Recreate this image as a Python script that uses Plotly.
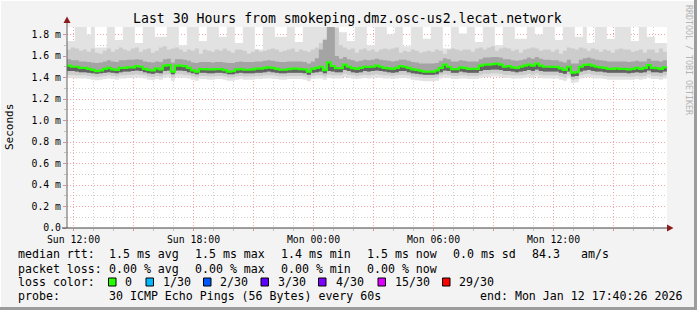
import plotly.graph_objects as go
import pandas as pd

# ---------------- data ----------------
bin_start = "2026-01-11 11:40"
bin_minutes = 12
n_bins = 150

median_ms = [1.51,1.50,1.50,1.49,1.49,1.48,1.47,1.46,1.465,1.48,
 1.49,1.475,1.47,1.49,1.49,1.495,1.495,1.505,1.50,1.48,
 1.47,1.465,1.485,1.475,1.51,1.515,1.455,1.51,1.51,1.505,
 1.49,1.467,1.455,1.478,1.478,1.475,1.475,1.478,1.478,1.468,
 1.455,1.458,1.475,1.478,1.472,1.472,1.475,1.482,1.482,1.49,
 1.495,1.49,1.48,1.472,1.472,1.478,1.482,1.482,1.478,1.475,
 1.455,1.48,1.49,1.50,1.468,1.54,1.507,1.487,1.487,1.52,
 1.50,1.487,1.48,1.49,1.50,1.498,1.50,1.51,1.50,1.49,
 1.485,1.48,1.49,1.505,1.50,1.49,1.475,1.47,1.463,1.455,
 1.455,1.455,1.465,1.49,1.52,1.50,1.478,1.478,1.495,1.49,
 1.48,1.48,1.48,1.51,1.52,1.52,1.525,1.53,1.52,1.50,
 1.505,1.495,1.49,1.50,1.51,1.52,1.51,1.53,1.51,1.50,
 1.50,1.498,1.498,1.485,1.47,1.50,1.445,1.45,1.50,1.518,
 1.52,1.51,1.50,1.495,1.49,1.48,1.48,1.485,1.48,1.48,
 1.475,1.48,1.49,1.48,1.49,1.515,1.49,1.488,1.48,1.495]

ping_max = [1.74,1.74,1.90,1.90,1.90,1.80,1.90,1.68,1.68,1.68,
 1.90,1.90,1.75,1.75,1.90,1.90,1.90,1.72,1.72,1.90,
 1.90,1.90,1.78,1.78,1.78,1.90,1.90,1.90,1.70,1.70,
 1.90,1.90,1.90,1.74,1.74,1.90,1.90,1.90,1.78,1.78,
 1.90,1.90,1.72,1.72,1.90,1.90,1.90,1.66,1.66,1.90,
 1.90,1.90,1.78,1.78,1.78,1.90,1.90,1.73,1.73,1.90,
 1.90,1.90,1.90,1.90,1.90,1.90,1.90,1.90,1.82,1.82,
 1.74,1.74,1.90,1.90,1.90,1.70,1.70,1.90,1.90,1.90,
 1.80,1.80,1.90,1.90,1.69,1.69,1.90,1.90,1.90,1.76,
 1.76,1.90,1.90,1.90,1.67,1.67,1.90,1.90,1.81,1.81,
 1.90,1.90,1.73,1.73,1.90,1.90,1.90,1.70,1.70,1.90,
 1.90,1.90,1.76,1.76,1.76,1.90,1.90,1.80,1.80,1.90,
 1.90,1.90,1.75,1.75,1.90,1.90,1.90,1.78,1.78,1.90,
 1.72,1.72,1.90,1.90,1.90,1.76,1.76,1.90,1.90,1.90,
 1.90,1.74,1.74,1.90,1.90,1.78,1.78,1.72,1.72,1.72]

ping_hi2 = [1.66,1.68,1.67,1.65,1.66,1.64,1.67,1.63,1.62,1.65,
 1.67,1.64,1.66,1.68,1.66,1.65,1.67,1.68,1.64,1.66,
 1.67,1.63,1.65,1.68,1.69,1.66,1.67,1.68,1.66,1.64,
 1.66,1.65,1.67,1.62,1.66,1.65,1.64,1.66,1.65,1.67,
 1.65,1.63,1.66,1.66,1.65,1.62,1.64,1.66,1.64,1.65,
 1.66,1.67,1.66,1.64,1.65,1.66,1.67,1.64,1.66,1.65,
 1.64,1.66,1.68,1.72,1.76,1.80,1.90,1.86,1.70,1.68,
 1.66,1.67,1.63,1.66,1.67,1.65,1.66,1.64,1.66,1.67,
 1.66,1.67,1.68,1.63,1.65,1.64,1.66,1.65,1.63,1.64,
 1.65,1.64,1.66,1.65,1.62,1.66,1.67,1.66,1.65,1.66,
 1.66,1.64,1.67,1.68,1.66,1.68,1.69,1.65,1.67,1.68,
 1.67,1.65,1.66,1.63,1.66,1.67,1.68,1.67,1.65,1.66,
 1.66,1.64,1.66,1.62,1.65,1.68,1.67,1.66,1.68,1.67,
 1.65,1.67,1.66,1.64,1.66,1.65,1.63,1.66,1.67,1.66,
 1.66,1.64,1.65,1.66,1.63,1.66,1.66,1.63,1.67,1.64]

ping_hi1 = [1.57,1.56,1.56,1.55,1.55,1.545,1.54,1.535,1.54,1.55,
 1.56,1.55,1.545,1.56,1.56,1.565,1.565,1.57,1.565,1.55,
 1.545,1.54,1.55,1.545,1.57,1.575,1.54,1.57,1.57,1.565,
 1.555,1.54,1.535,1.545,1.545,1.545,1.54,1.545,1.545,1.54,
 1.535,1.535,1.545,1.55,1.545,1.545,1.545,1.55,1.55,1.555,
 1.56,1.555,1.55,1.545,1.545,1.55,1.55,1.55,1.55,1.545,
 1.53,1.55,1.58,1.66,1.75,1.90,1.90,1.60,1.575,1.59,
 1.57,1.56,1.55,1.555,1.565,1.56,1.565,1.575,1.565,1.56,
 1.555,1.55,1.555,1.565,1.565,1.555,1.545,1.54,1.53,1.53,
 1.53,1.53,1.535,1.555,1.58,1.57,1.55,1.55,1.56,1.555,
 1.55,1.55,1.55,1.57,1.585,1.585,1.59,1.59,1.585,1.57,
 1.57,1.56,1.555,1.56,1.57,1.585,1.575,1.59,1.575,1.565,
 1.565,1.56,1.56,1.55,1.54,1.565,1.53,1.53,1.565,1.58,
 1.585,1.575,1.565,1.56,1.555,1.55,1.55,1.55,1.55,1.55,
 1.545,1.55,1.555,1.55,1.55,1.575,1.555,1.555,1.55,1.56]

ping_lo1 = [1.46,1.46,1.455,1.45,1.45,1.445,1.44,1.435,1.44,1.445,
 1.45,1.445,1.44,1.45,1.455,1.455,1.46,1.465,1.46,1.45,
 1.44,1.435,1.445,1.44,1.46,1.465,1.43,1.465,1.465,1.46,
 1.45,1.44,1.43,1.445,1.445,1.44,1.44,1.445,1.445,1.44,
 1.43,1.43,1.44,1.445,1.44,1.44,1.44,1.445,1.445,1.45,
 1.455,1.45,1.445,1.44,1.44,1.445,1.445,1.445,1.445,1.44,
 1.425,1.445,1.45,1.455,1.44,1.46,1.455,1.45,1.45,1.47,
 1.46,1.45,1.445,1.45,1.46,1.455,1.46,1.465,1.46,1.455,
 1.45,1.445,1.45,1.46,1.46,1.45,1.44,1.435,1.43,1.425,
 1.425,1.425,1.43,1.45,1.465,1.46,1.445,1.445,1.455,1.45,
 1.445,1.445,1.445,1.46,1.47,1.47,1.475,1.475,1.47,1.46,
 1.46,1.455,1.45,1.455,1.46,1.47,1.46,1.475,1.46,1.455,
 1.455,1.455,1.455,1.445,1.435,1.455,1.41,1.415,1.455,1.465,
 1.47,1.46,1.455,1.455,1.45,1.445,1.445,1.445,1.445,1.445,
 1.44,1.445,1.45,1.445,1.45,1.465,1.45,1.45,1.445,1.455]

ping_lo2 = [1.425,1.425,1.42,1.42,1.42,1.415,1.41,1.405,1.41,1.415,
 1.42,1.415,1.41,1.42,1.42,1.425,1.425,1.43,1.425,1.42,
 1.41,1.405,1.415,1.41,1.425,1.43,1.40,1.43,1.43,1.425,
 1.42,1.41,1.40,1.415,1.415,1.41,1.41,1.415,1.415,1.41,
 1.40,1.40,1.41,1.415,1.41,1.41,1.41,1.415,1.415,1.42,
 1.42,1.42,1.415,1.41,1.41,1.415,1.415,1.415,1.415,1.41,
 1.395,1.415,1.42,1.42,1.41,1.425,1.42,1.42,1.42,1.435,
 1.425,1.42,1.415,1.42,1.425,1.42,1.425,1.43,1.425,1.42,
 1.42,1.415,1.42,1.425,1.425,1.42,1.41,1.405,1.40,1.395,
 1.395,1.395,1.40,1.42,1.43,1.425,1.415,1.415,1.42,1.42,
 1.415,1.415,1.415,1.425,1.435,1.435,1.44,1.44,1.435,1.425,
 1.425,1.42,1.42,1.42,1.425,1.435,1.425,1.44,1.425,1.42,
 1.42,1.42,1.42,1.41,1.40,1.42,1.38,1.385,1.42,1.43,
 1.435,1.425,1.42,1.42,1.415,1.41,1.41,1.41,1.41,1.41,
 1.41,1.41,1.415,1.41,1.415,1.43,1.415,1.415,1.41,1.42]

ping_min = [1.395,1.395,1.39,1.39,1.39,1.385,1.38,1.375,1.38,1.385,
 1.39,1.385,1.38,1.39,1.39,1.395,1.395,1.40,1.395,1.39,
 1.38,1.375,1.385,1.38,1.395,1.40,1.37,1.40,1.40,1.395,
 1.39,1.38,1.37,1.385,1.385,1.38,1.38,1.385,1.385,1.38,
 1.37,1.37,1.38,1.385,1.38,1.38,1.38,1.385,1.385,1.39,
 1.39,1.39,1.385,1.38,1.38,1.385,1.385,1.385,1.385,1.38,
 1.365,1.385,1.39,1.39,1.38,1.395,1.39,1.39,1.39,1.405,
 1.395,1.39,1.385,1.39,1.395,1.39,1.395,1.40,1.395,1.39,
 1.39,1.385,1.39,1.395,1.395,1.39,1.38,1.375,1.37,1.365,
 1.365,1.365,1.37,1.39,1.40,1.395,1.385,1.385,1.39,1.39,
 1.385,1.385,1.385,1.395,1.405,1.405,1.41,1.41,1.405,1.395,
 1.395,1.39,1.39,1.39,1.395,1.405,1.395,1.41,1.395,1.39,
 1.39,1.39,1.39,1.38,1.37,1.39,1.35,1.355,1.39,1.40,
 1.405,1.395,1.39,1.39,1.385,1.38,1.38,1.38,1.38,1.38,
 1.38,1.38,1.385,1.38,1.385,1.40,1.385,1.385,1.38,1.39]

x_tick_start = "2026-01-11 12:00"
x_tick_labels = ["Sun 12:00", "", "Sun 18:00", "", "Mon 00:00", "",
                 "Mon 06:00", "", "Mon 12:00", ""]
y_tick_values = [0.0, 0.2, 0.4, 0.6, 0.8, 1.0, 1.2, 1.4, 1.6, 1.8]
y_tick_labels = ["0.0", "0.2 m", "0.4 m", "0.6 m", "0.8 m", "1.0 m",
                 "1.2 m", "1.4 m", "1.6 m", "1.8 m"]
x_start = "2026-01-11 11:40:26"
x_end = "2026-01-12 17:40:26"

legend_rows = [
    ["median rtt:", "1.5 ms avg", "1.5 ms max", "1.4 ms min", "1.5 ms now", "0.0 ms sd", "84.3", "am/s"],
    ["packet loss:", "0.00 % avg", "0.00 % max", "0.00 % min", "0.00 % now"],
]
loss_labels = ["0", "1/30", "2/30", "3/30", "4/30", "15/30", "29/30"]
loss_colors = ["#26ff00", "#00b8ff", "#0059ff", "#5e00ff", "#7e00ff", "#dd00ff", "#ff0000"]
probe_text = "30 ICMP Echo Pings (56 Bytes) every 60s"
end_text = "end: Mon Jan 12 17:40:26 2026"
title_text = "Last 30 Hours from smokeping.dmz.osc-us2.lecat.network"

# ---------------- build figure ----------------
W, H = 697, 310
L, R, T, B = 67, 667, 27, 228
def px(x):
    return (x - L) / (R - L)
def py(y):
    return (B - y) / (B - T)

times = pd.date_range(bin_start, periods=n_bins, freq=f"{bin_minutes}min")
step_x = list(times) + [times[-1] + pd.Timedelta(minutes=bin_minutes)]
def step_y(v):
    return list(v) + [v[-1]]

fig = go.Figure()

def band(lower, upper, color):
    fig.add_trace(go.Scatter(x=step_x, y=step_y(lower), mode="lines",
                             line=dict(width=0, shape="hv"), hoverinfo="skip", showlegend=False))
    fig.add_trace(go.Scatter(x=step_x, y=step_y(upper), mode="lines", fill="tonexty",
                             fillcolor=color, line=dict(width=0, shape="hv"),
                             hoverinfo="skip", showlegend=False))

band(ping_min, ping_max, "#e2e2e2")
band(ping_lo2, ping_hi2, "#cccccc")
band(ping_lo1, ping_hi1, "#a4a4a4")
band(ping_lo1, median_ms, "#626262")

# median line (step)
fig.add_trace(go.Scatter(x=step_x, y=step_y(median_ms), mode="lines",
                         line=dict(color="#26ff00", width=2.2, shape="hv"),
                         hoverinfo="skip", showlegend=False))

tickvals = pd.date_range(x_tick_start, periods=len(x_tick_labels), freq="3h")

font_mono = "DejaVu Sans Mono"
fig.update_layout(
    width=W, height=H,
    margin=dict(l=L, r=W - R, t=T, b=H - B, pad=0),
    paper_bgcolor="#f3f3f3", plot_bgcolor="#ffffff",
    showlegend=False,
    font=dict(family=font_mono, size=10, color="#000000"),
    xaxis=dict(
        type="date", range=[x_start, x_end],
        tickvals=tickvals, ticktext=x_tick_labels,
        showgrid=True, gridcolor="#f5a3a3", griddash="1px,2px", gridwidth=1,
        ticks="outside", ticklen=2, tickcolor="#e09090",
        tickfont=dict(family=font_mono, size=9.8, color="#000000"),
        minor=dict(dtick=3600000, tick0="2026-01-11 12:00", showgrid=True,
                   gridcolor="#cfcfcf", griddash="1px,2px", ticks="outside", ticklen=2,
                   tickcolor="#c0c0c0"),
        showline=False, zeroline=False, fixedrange=True,
    ),
    yaxis=dict(
        range=[0, (B - T) / 107.5], tickvals=y_tick_values, ticktext=y_tick_labels,
        showgrid=True, gridcolor="#f5a3a3", griddash="1px,2px", gridwidth=1,
        ticks="outside", ticklen=3, tickcolor="#e09090",
        tickfont=dict(family=font_mono, size=9.8, color="#000000"),
        minor=dict(dtick=0.1, showgrid=True, gridcolor="#cfcfcf", griddash="1px,2px",
                   ticks="outside", ticklen=2, tickcolor="#c0c0c0"),
        showline=False, zeroline=False, fixedrange=True,
    ),
)

shapes = []
# axes lines
shapes.append(dict(type="line", xref="paper", yref="paper", x0=px(67), x1=px(67), y0=py(228), y1=py(23),
                   line=dict(color="#606060", width=1)))
shapes.append(dict(type="line", xref="paper", yref="paper", x0=px(62), x1=px(668), y0=py(228), y1=py(228),
                   line=dict(color="#404040", width=1)))
# arrows
shapes.append(dict(type="path", xref="paper", yref="paper",
                   path=f"M {px(63.5)} {py(23)} L {px(70.5)} {py(23)} L {px(67)} {py(16.5)} Z",
                   fillcolor="#8b1c1c", line=dict(width=0)))
shapes.append(dict(type="path", xref="paper", yref="paper",
                   path=f"M {px(667)} {py(224.5)} L {px(667)} {py(231.5)} L {px(673.5)} {py(228)} Z",
                   fillcolor="#8b1c1c", line=dict(width=0)))
# 3D frame
shapes.append(dict(type="line", xref="paper", yref="paper", x0=px(0), x1=px(697), y0=py(0.5), y1=py(0.5),
                   line=dict(color="#ffffff", width=1)))
shapes.append(dict(type="line", xref="paper", yref="paper", x0=px(0.5), x1=px(0.5), y0=py(0), y1=py(310),
                   line=dict(color="#ffffff", width=1)))
shapes.append(dict(type="line", xref="paper", yref="paper", x0=px(0), x1=px(697), y0=py(308.5), y1=py(308.5),
                   line=dict(color="#9c9c9c", width=3)))
shapes.append(dict(type="line", xref="paper", yref="paper", x0=px(695.5), x1=px(695.5), y0=py(0), y1=py(310),
                   line=dict(color="#9c9c9c", width=3)))

annotations = []
def text(x, y, s, size=11.6, anchor="left", color="#000000", angle=0):
    annotations.append(dict(x=px(x), y=py(y), xref="paper", yref="paper", text=s, showarrow=False,
                            xanchor=anchor, yanchor="middle", textangle=angle,
                            font=dict(family=font_mono, size=size, color=color)))

text(347.5, 19, title_text, size=13.2, anchor="center")
text(10, 127, "Seconds", size=11, anchor="center", angle=-90)
text(689, 60, "RRDTOOL / TOBI OETIKER", size=8.3, anchor="center", color="#b4b4b4", angle=90)

col_x = [16, 107.3, 193.3, 279.3, 365, 451, 530, 579.3]
row_y = [254, 268.5, 282, 296]
for r, row in enumerate(legend_rows):
    for c, s in enumerate(row):
        text(col_x[c], row_y[r], s.replace(" ", "&nbsp;"))

text(16, row_y[2], "loss&nbsp;color:")
box_x = [108.5, 146, 203.5, 261, 318.5, 378, 442.5]
label_x = [123.3, 160.5, 218.3, 276, 333.5, 392.7, 457.3]
for bx, lx, lab, col in zip(box_x, label_x, loss_labels, loss_colors):
    shapes.append(dict(type="rect", xref="paper", yref="paper",
                       x0=px(bx), x1=px(bx + 7.5), y0=py(row_y[2] + 4), y1=py(row_y[2] - 4),
                       fillcolor=col, line=dict(color="#000000", width=1)))
    text(lx, row_y[2], lab)

text(16, row_y[3], "probe:")
text(107.3, row_y[3], probe_text.replace(" ", "&nbsp;"))
text(478.3, row_y[3], end_text.replace(" ", "&nbsp;"))

fig.update_layout(shapes=shapes, annotations=annotations)
fig.write_html("out.html")
